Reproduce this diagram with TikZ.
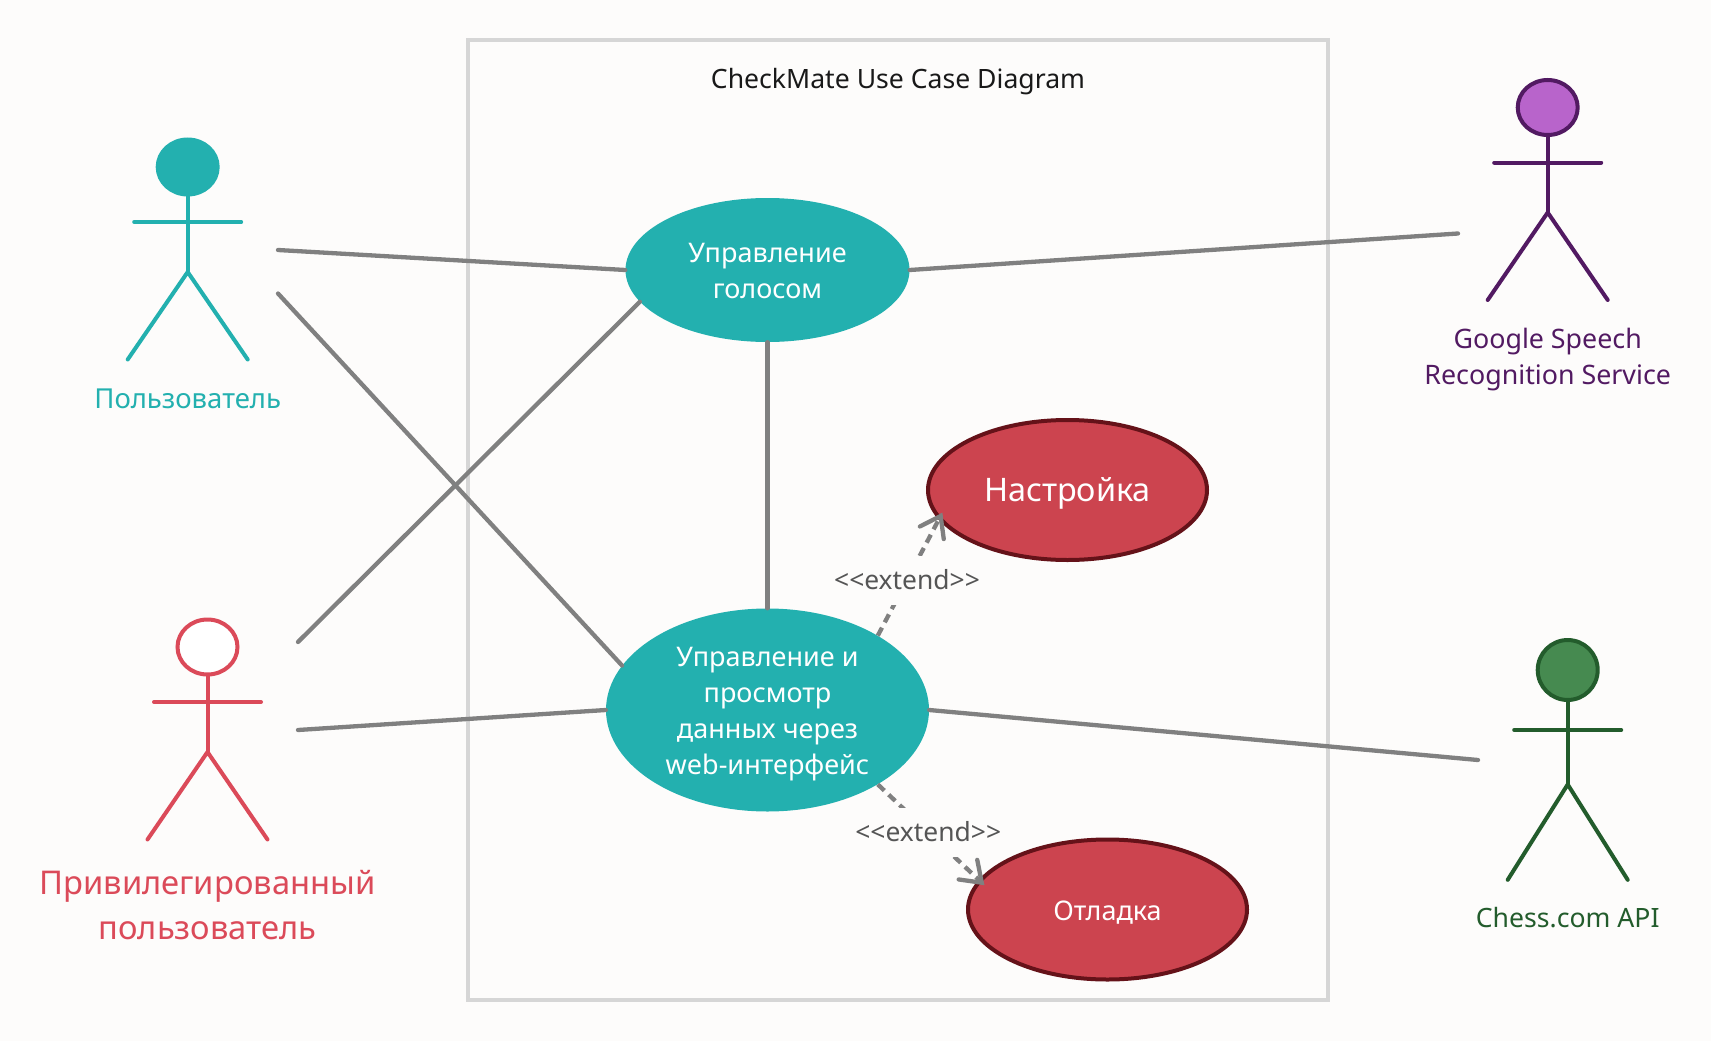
\documentclass[tikz,border=0pt]{standalone}
\usepackage{fontspec}
\setmainfont{Noto Sans}
\usetikzlibrary{shapes.geometric,arrows.meta}
\definecolor{paper}{HTML}{FDFCFB}
\definecolor{frameline}{HTML}{D6D6D6}
\definecolor{teal}{HTML}{23B0AF}
\definecolor{rosered}{HTML}{CC444F}
\definecolor{darkred}{HTML}{651219}
\definecolor{wire}{HTML}{808080}
\definecolor{plum}{HTML}{521A62}
\definecolor{orchid}{HTML}{B864CB}
\definecolor{forest}{HTML}{235C2C}
\definecolor{leaf}{HTML}{468A50}
\definecolor{coral}{HTML}{DB4A59}
\definecolor{textgray}{HTML}{555555}
\tikzset{
    usecase/.style={ellipse,inner sep=0pt,align=center,text=white,font=\fontsize{27}{36}\selectfont},
    teal case/.style={usecase,fill=teal},
    red case/.style={usecase,fill=rosered,draw=darkred,line width=4pt},
    wireline/.style={draw=wire,line width=4.3pt,line cap=round},
    extline/.style={draw=wire,line width=4.3pt,dash pattern=on 9pt off 6pt,shorten >=-8pt,-{Straight Barb[length=19pt,width=27pt,line cap=round]}},
    extlabel/.style={fill=paper,text=textgray,inner sep=0pt,minimum height=49pt,font=\fontsize{26.4}{30}\selectfont},
    actorlabel/.style={align=center,font=\fontsize{26.8}{36}\selectfont},
}
\newcommand{\dropline}[1]{\rule{0pt}{#1pt}}
% #1 height factor, #2 name, #3 position of the head, #4 line, #5 fill
\newcommand{\stickman}[5][1]{
    \begin{scope}[shift={#3},yscale=#1,draw=#4,line width=4pt,line cap=round]
        \draw (0,29)--(0,105);
        \draw (-53.5,55)--(53.5,55);
        \draw (-60,192.5)--(0,105)--(60,192.5);
        \node[ellipse,draw=#4,fill=#5,line width=4pt,minimum width=60pt,minimum height={55pt*#1},inner sep=0pt] (#2) at (0,0){};
    \end{scope}
}
\begin{document}
\begin{tikzpicture}[x=1pt,y=-1pt]
    \useasboundingbox[fill=paper](0,0)rectangle(1711,1041);
    \draw[frameline,line width=4pt](468,40)rectangle(1328,1000);
    \node[font=\fontsize{26.6}{30}\selectfont,text=black!90] (title) at (898,82){CheckMate Use Case Diagram};

    % use cases
    \node[teal case,minimum width=284pt,minimum height=144pt] (voice) at (767.5,270){\dropline{21}Управление\\голосом};
    \node[teal case,minimum width=323pt,minimum height=203pt] (web) at (767.5,710){\dropline{27.5}Управление и\\просмотр\\данных через\\web-интерфейс};
    \node[red case,minimum width=279pt,minimum height=140pt,font=\fontsize{32.4}{40}\selectfont] (settings) at (1067.5,490){\dropline{31}Настройка};
    \node[red case,minimum width=279pt,minimum height=140pt] (debug) at (1107.5,909.5){\dropline{25.5}Отладка};

    % actors
    \stickman{user}{(187.7,167)}{teal}{teal}
    \stickman{admin}{(207.5,647)}{coral}{white}
    \stickman{google}{(1547.7,107.5)}{plum}{orchid}
    \stickman[1.09]{chess}{(1567.7,670)}{forest}{leaf}
    \node[actorlabel,text=teal,font=\fontsize{27.5}{36}\selectfont] (userlabel) at (187.7,399){Пользователь};
    \node[actorlabel,text=coral,font=\fontsize{32.7}{44.5}\selectfont] (adminlabel) at (207.5,905){Привилегированный\\пользователь};
    \node[actorlabel,text=plum] (googlelabel) at (1547.7,359.5){Google Speech\\Recognition Service};
    \node[actorlabel,text=forest,font=\fontsize{26.6}{36}\selectfont] (chesslabel) at (1567.7,918){Chess.com API};

    % free ends near the actors
    \coordinate (userA) at (278,250);
    \coordinate (userB) at (278,293.5);
    \coordinate (adminA) at (298,642);
    \coordinate (adminB) at (298,730);
    \coordinate (googleA) at (1458,233.5);
    \coordinate (chessA) at (1478,760);

    \draw[wireline] (userA)--(voice.west);
    \draw[wireline] (userB)--(web.163);
    \draw[wireline] (adminA)--(voice.194);
    \draw[wireline] (adminB)--(web.west);
    \draw[wireline] (voice.east)--(googleA);
    \draw[wireline] (web.east)--(chessA);
    \draw[wireline] (voice.south)--(web.north);
    \draw[extline] (web.34.5)--(settings.193) node[pos=.48,extlabel] (extA) {<{}<extend>{}>};
    \draw[extline] (web.-34.4)--(debug.167) node[midway,extlabel] (extB) {<{}<extend>{}>};
\end{tikzpicture}
\end{document}
